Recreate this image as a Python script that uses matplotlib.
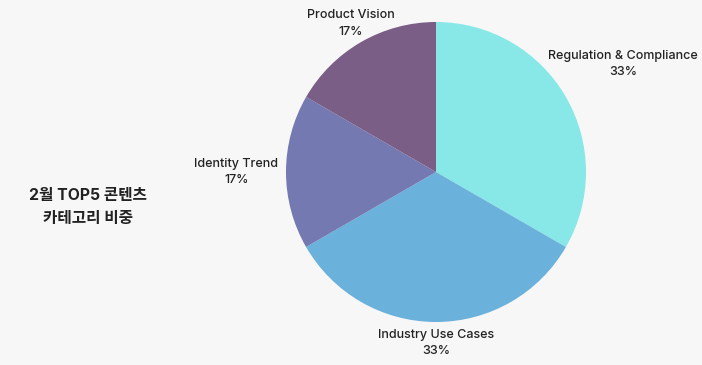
import numpy as np
import matplotlib.pyplot as plt

plt.rcParams['font.family'] = ['Inter', 'Noto Sans CJK KR', 'DejaVu Sans']

# 2월 TOP5 콘텐츠 카테고리 (건수)
categories = ['Regulation & Compliance', 'Industry Use Cases', 'Identity Trend', 'Product Vision']
counts = [2, 2, 1, 1]
colors = ['#88e8e8', '#6ab1db', '#7479b1', '#7a5e86']
label_dist = [1.44, 1.14, 1.33, 1.14]

bg = '#f7f7f8'
fig = plt.figure(figsize=(7.02, 3.65), dpi=100, facecolor=bg)
ax = fig.add_axes([286 / 702, 43 / 365, 300 / 702, 300 / 365])
ax.set_facecolor(bg)

wedges, _ = ax.pie(counts, colors=colors, startangle=90, counterclock=False,
                   radius=1, wedgeprops=dict(linewidth=0))
ax.set_xlim(-1, 1)
ax.set_ylim(-1, 1)
ax.set_aspect('equal')
ax.axis('off')

total = sum(counts)
for w, name, c, d in zip(wedges, categories, counts, label_dist):
    mid = np.deg2rad((w.theta1 + w.theta2) / 2)
    pct = round(c / total * 100)
    ax.text(d * np.cos(mid), d * np.sin(mid), f'{name}\n{pct}%',
            ha='center', va='center', fontsize=9, fontweight=500, color='#222222',
            linespacing=1.55, clip_on=False)

fig.text(88 / 702, 1 - 207 / 365, '2월 TOP5 콘텐츠\n카테고리 비중', ha='center', va='center',
         fontsize=11.3, fontweight='bold', color='#222222', linespacing=1.6)

fig.savefig('out.png', dpi=100, facecolor=bg)
